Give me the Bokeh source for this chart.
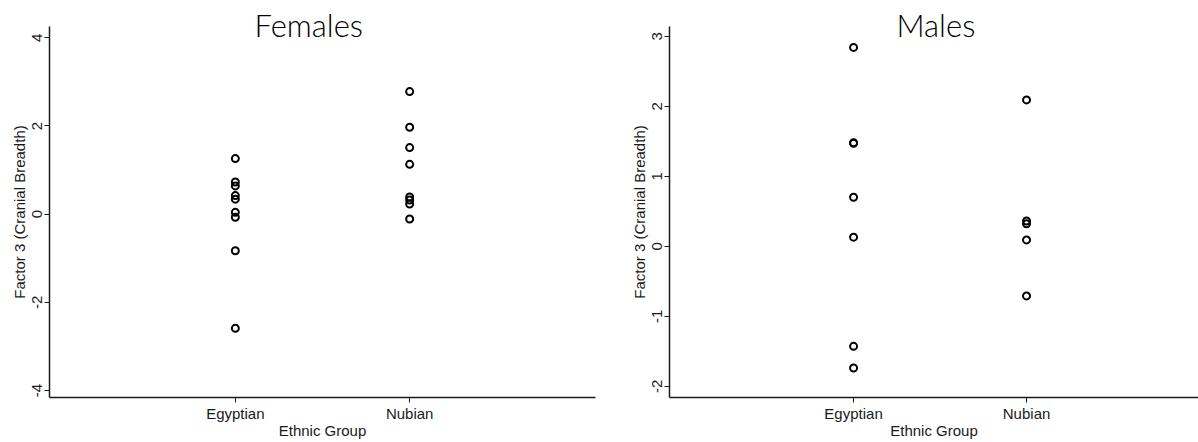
from bokeh.plotting import figure
from bokeh.layouts import row
from bokeh.models import Range1d, FixedTicker, Title, ColumnDataSource
from bokeh.embed import file_html
from bokeh.resources import INLINE

# ---- data ----
categories = ["Egyptian", "Nubian"]
female_egyptian = [1.26, 0.73, 0.64, 0.42, 0.34, 0.04, -0.07, -0.83, -2.59]
female_nubian = [2.78, 1.97, 1.51, 1.13, 0.39, 0.32, 0.23, -0.11]
male_egyptian = [2.84, 1.48, 1.47, 0.70, 0.13, -1.43, -1.74]
male_nubian = [2.09, 0.36, 0.32, 0.09, -0.71]
female_yticks = [-4, -2, 0, 2, 4]
male_yticks = [-2, -1, 0, 1, 2, 3]

TICK_FONT = "Liberation Sans"
TITLE_FONT = "'Lato Light', Lato"
INK = "#1a1a1a"


def make_panel(title, groups, yticks, xr, yr, width, height, borders,
               title_dx, title_sd, lab_sd, axlab_sd):
    p = figure(width=width, height=height, output_backend="svg", toolbar_location=None,
               x_range=Range1d(*xr), y_range=Range1d(*yr),
               min_border_left=borders[0], min_border_right=borders[1],
               min_border_top=borders[2], min_border_bottom=borders[3])
    p.outline_line_color = None
    p.grid.visible = False
    p.background_fill_color = "white"
    p.border_fill_color = "white"

    xs, ys = [], []
    for i, vals in enumerate(groups):
        xs += [i + 1] * len(vals)
        ys += list(vals)
    src = ColumnDataSource(dict(x=xs, y=ys))
    p.scatter("x", "y", source=src, marker="circle", size=7, fill_color=None,
              line_color="black", line_width=2)

    # x axis
    xa = p.xaxis[0]
    xa.ticker = FixedTicker(ticks=[i + 1 for i in range(len(categories))])
    xa.major_label_overrides = {i + 1: c for i, c in enumerate(categories)}
    xa.axis_label = "Ethnic Group"
    xa.minor_tick_line_color = None
    xa.major_tick_in = 0
    xa.major_tick_out = 5
    xa.major_label_standoff = lab_sd
    xa.axis_label_standoff = axlab_sd

    # y axis
    ya = p.yaxis[0]
    ya.ticker = FixedTicker(ticks=yticks)
    ya.major_label_overrides = {t: str(t) for t in yticks}
    ya.axis_label = "Factor 3 (Cranial Breadth)"
    ya.minor_tick_line_color = None
    ya.major_tick_in = 0
    ya.major_tick_out = 5
    ya.major_label_orientation = "vertical"
    ya.major_label_standoff = 2
    ya.axis_label_standoff = 2

    for ax in (xa, ya):
        ax.axis_line_color = INK
        ax.axis_line_width = 1.5
        ax.major_tick_line_color = INK
        ax.major_label_text_font = TICK_FONT
        ax.major_label_text_font_size = "15px"
        ax.major_label_text_color = INK
        ax.axis_label_text_font = TICK_FONT
        ax.axis_label_text_font_size = "15px"
        ax.axis_label_text_font_style = "normal"
        ax.axis_label_text_color = INK

    p.title = Title(text=title, align="left", text_font=TITLE_FONT,
                    text_font_size="31px", text_font_style="normal",
                    text_color="black", offset=title_dx, standoff=title_sd)
    return p


p1 = make_panel("Females", [female_egyptian, female_nubian], female_yticks,
                (-0.066, 3.066), (-4.159, 4.256), 620, 442, (49, 25, 26, 45),
                205, -35, 2, -3)
p2 = make_panel("Males", [male_egyptian, male_nubian], male_yticks,
                (-0.064, 2.994), (-2.161, 3.139), 578, 442, (49, 0, 26, 45),
                227, -35, 2, -3)

layout = row(p1, p2)
open("out.html", "w").write(file_html(layout, INLINE))
